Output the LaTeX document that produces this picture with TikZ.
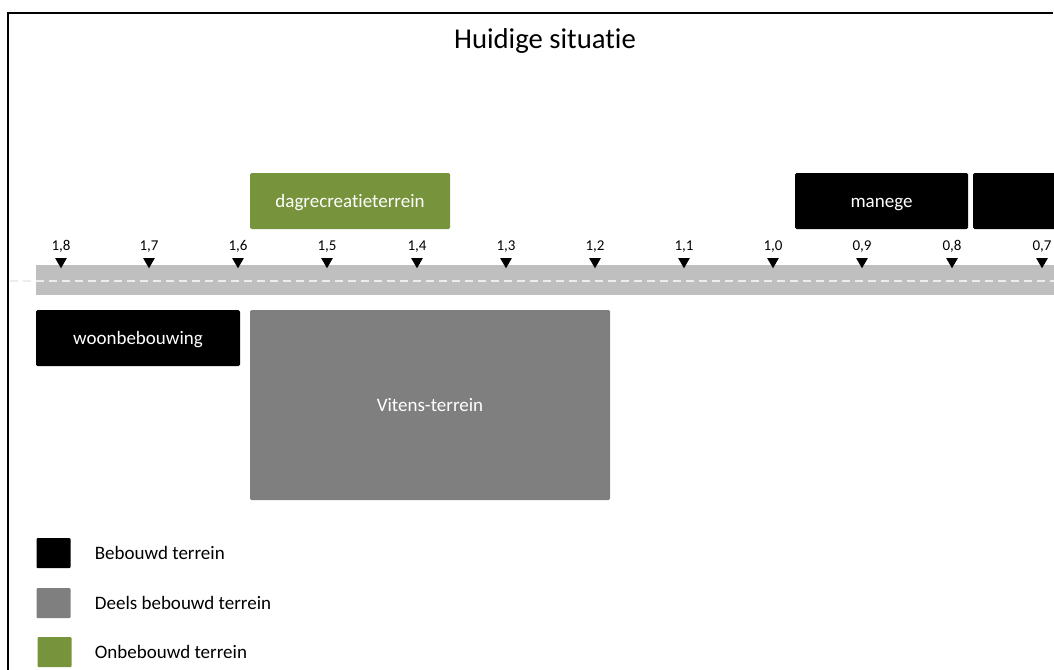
\documentclass[tikz,border=0pt]{standalone}
\usepackage{fontspec}
\setmainfont{Carlito}[Ligatures={NoCommon,NoContextual}]
\usetikzlibrary{positioning,shapes.geometric}

\definecolor{groen}{HTML}{77933C}
\definecolor{grijs}{HTML}{7F7F7F}
\definecolor{weg}{HTML}{BFBFBF}

\tikzset{
  vlak/.style={rectangle, rounded corners=1.5pt, inner sep=0pt, text=white, text height=16pt, text depth=4pt,
    font=\fontsize{19}{21}\selectfont},
  bebouwd/.style={vlak, fill=black},
  deels/.style={vlak, fill=grijs},
  onbebouwd/.style={vlak, fill=groen},
  paal/.style={regular polygon, regular polygon sides=3, shape border rotate=180, fill=black, inner sep=0pt, minimum size=13.5pt,
    label={[label distance=2pt, font=\fontsize{15}{17}\selectfont]above:#1}},
  legvak/.style={rectangle, rounded corners=1pt, minimum width=34pt, minimum height=30pt, inner sep=0pt},
  legtekst/.style={anchor=west, inner sep=0pt, font=\fontsize{19}{21}\selectfont}
}

\begin{document}
\begin{tikzpicture}[x=1pt, y=-1pt]
\useasboundingbox (0,0) rectangle (1054,669);
\clip (0,0) rectangle (1054,669);

% Frame and title
\draw[line width=2pt] (8,670) -- (8,13) -- (1053,13);
\node[font=\fontsize{28.7}{31}\selectfont] (titel) at (545,41) {Huidige situatie};

% Road
\fill[weg] (36,265) rectangle (1060,295);
\draw[white!93!black, line width=1.2pt, dash pattern=on 8pt off 5pt] (10,281) -- (1054,281);

% Kilometre markers
\node[paal={1,8}] (m18) at (61,261.5) {};
\node[paal={1,7}] (m17) at (149,261.5) {};
\node[paal={1,6}] (m16) at (238,261.5) {};
\node[paal={1,5}] (m15) at (327,261.5) {};
\node[paal={1,4}] (m14) at (417,261.5) {};
\node[paal={1,3}] (m13) at (506,261.5) {};
\node[paal={1,2}] (m12) at (595,261.5) {};
\node[paal={1,1}] (m11) at (684,261.5) {};
\node[paal={1,0}] (m10) at (773,261.5) {};
\node[paal={0,9}] (m09) at (862,261.5) {};
\node[paal={0,8}] (m08) at (952,261.5) {};
\node[paal={0,7}] (m07) at (1042,261.5) {};

% Areas north of the road
\node[onbebouwd, minimum width=200pt, minimum height=56pt] (dagrecreatie) at (350,201) {dagrecreatieterrein};
\node[bebouwd, minimum width=173pt, minimum height=56pt] (manege) at (881.5,201) {manege};
\node[bebouwd, minimum width=90pt, minimum height=56pt] (oost) at (1018,201) {};

% Areas south of the road
\node[bebouwd, minimum width=204pt, minimum height=56pt] (woon) at (138,338) {woonbebouwing};
\node[deels, minimum width=360pt, minimum height=190pt] (vitens) at (430,405) {Vitens-terrein};

% Legend
\node[legvak, fill=black] (leg1) at (53.5,553) {};
\node[legvak, fill=grijs] (leg2) at (53.5,603) {};
\node[legvak, fill=groen] (leg3) at (54.5,652) {};
\node[legtekst, right=24pt of leg1] (tekst1) {Bebouwd terrein};
\node[legtekst, right=24pt of leg2] (tekst2) {Deels bebouwd terrein};
\node[legtekst, right=23pt of leg3] (tekst3) {Onbebouwd terrein};

\end{tikzpicture}
\end{document}
